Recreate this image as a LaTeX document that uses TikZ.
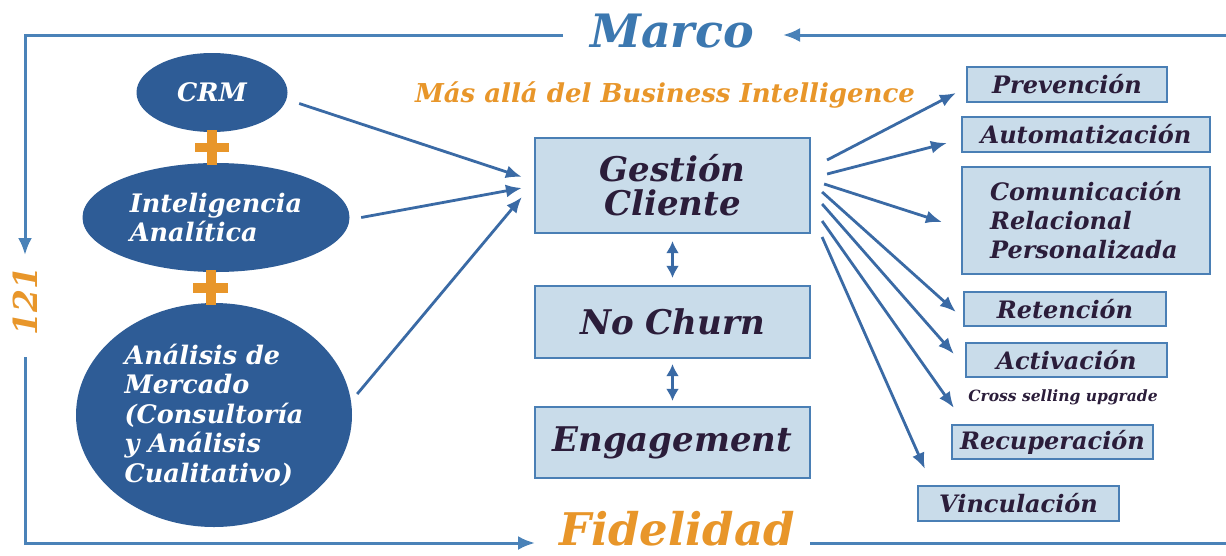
\documentclass[tikz,border=0pt]{standalone}
\usepackage{fontspec}
\setmainfont{DejaVu Serif}
\usetikzlibrary{arrows.meta,shapes.geometric,calc}
\definecolor{framec}{HTML}{4A82B8}
\definecolor{marcoc}{HTML}{3C78B0}
\definecolor{arrc}{HTML}{3A6AA5}
\definecolor{ellc}{HTML}{2E5C96}
\definecolor{orangec}{HTML}{E8962A}
\definecolor{boxc}{HTML}{C9DCEA}
\definecolor{boxb}{HTML}{4A7FB5}
\definecolor{txtc}{HTML}{2B1D3A}
\newcommand{\myfs}[2]{\fontsize{#1}{#2}\selectfont\bfseries\itshape}
\tikzset{
  frameline/.style={draw=framec, line width=3pt},
  frametip/.style={-{Latex[length=17pt,width=14pt]}},
  conn/.style={draw=arrc, line width=2.8pt, -{Latex[length=16pt,width=13pt]}},
  dbl/.style={draw=arrc, line width=2.4pt, {Latex[length=12pt,width=13pt]}-{Latex[length=12pt,width=13pt]}},
  ell/.style={ellipse, fill=ellc, text=white, inner sep=0pt, font=\myfs{25.5}{29.5}},
  bx/.style={rectangle, fill=boxc, draw=boxb, line width=2.2pt, text=txtc, inner sep=0pt},
  smallbx/.style={bx, font=\myfs{24}{29}},
  bigbx/.style={bx, minimum width=275pt, font=\myfs{34}{36}},
  plusbar/.style={fill=orangec},
}
\begin{document}
\begin{tikzpicture}[x=1pt,y=-1pt]
\fill[white] (0,0) rectangle (1226,555);
\useasboundingbox (0,0) rectangle (1226,555);

% headings
\node[anchor=base, text=marcoc, font=\myfs{46}{50}, inner sep=0pt] (marco) at (672,47) {Marco};
\node[anchor=base, text=orangec, font=\myfs{45}{50}, inner sep=0pt] (fid) at (677,545) {Fidelidad};
\node[anchor=base, text=orangec, font=\myfs{26}{30}, inner sep=0pt] (mas) at (665,102) {Más allá del Business Intelligence};
\node[rotate=90, text=orangec, font=\myfs{33}{36}, inner sep=0pt] (n121) at (25,301) {121};

% frame
\coordinate (tl) at (25,35);
\coordinate (tr) at (1226,35);
\coordinate (bl) at (25,543);
\coordinate (br) at (1226,543);
\coordinate (topL) at (563,35);
\coordinate (topR) at (783,35);
\coordinate (leftTip) at (25,255);
\coordinate (leftLow) at (25,357);
\coordinate (botL) at (535,543);
\coordinate (botR) at (810,543);
\draw[frameline, frametip] (topL) -- (tl) -- (leftTip);
\draw[frameline, frametip] (tr) -- (topR);
\draw[frameline, frametip] (leftLow) -- (bl) -- (botL);
\draw[frameline] (botR) -- (br);

% left ellipses
\node[ell, minimum width=151pt, minimum height=79pt] (crm) at (212,92.5) {CRM};
\node[ell, minimum width=267pt, minimum height=109pt, align=left] (intel) at (216,217.5) {Inteligencia\\Analítica};
\node[ell, minimum width=276pt, minimum height=224pt, align=left] (ana) at (214,415) {Análisis de\\Mercado\\(Consultoría\\y Análisis\\Cualitativo)};

% plus signs
\fill[plusbar] (207,130) rectangle (217,165);
\fill[plusbar] (195,143) rectangle (229,152);
\fill[plusbar] (206,270) rectangle (216,305);
\fill[plusbar] (193,283) rectangle (228,293);

% middle boxes
\node[bigbx, minimum height=95pt, align=center] (gc) at (672.5,185.5) {Gestión\\[-2pt]Cliente};
\node[bigbx, minimum height=72pt] (nc) at (672.5,322) {No Churn};
\node[bigbx, minimum height=71pt] (eng) at (672.5,442.5) {Engagement};
\draw[dbl, shorten <=7pt, shorten >=7pt] (gc.south) -- (nc.north);
\draw[dbl, shorten <=5pt, shorten >=5pt] (nc.south) -- (eng.north);

% right boxes
\node[smallbx, minimum width=200pt, minimum height=35pt] (prev) at (1067,84.5) {Prevención};
\node[smallbx, minimum width=248pt, minimum height=35pt] (auto) at (1086,134.5) {Automatización};
\node[smallbx, minimum width=248pt, minimum height=107pt, align=left] (com) at (1086,220.5) {Comunicación\\Relacional\\Personalizada};
\node[smallbx, minimum width=202pt, minimum height=34pt] (ret) at (1065,309) {Retención};
\node[smallbx, minimum width=201pt, minimum height=34pt] (act) at (1066.5,360) {Activación};
\node[anchor=base, text=txtc, font=\myfs{15.5}{18}, inner sep=0pt] (cross) at (1063,401) {Cross selling upgrade};
\node[smallbx, minimum width=201pt, minimum height=34pt] (rec) at (1052.5,442) {Recuperación};
\node[smallbx, minimum width=201pt, minimum height=35pt] (vin) at (1018.5,503.5) {Vinculación};

% left connectors
\draw[conn] ($(crm.east)+(11.5,11)$) -- ($(gc.west)+(-12,-8.5)$);
\draw[conn] ($(intel.east)+(11.5,0)$) -- ($(gc.west)+(-12,2.5)$);
\draw[conn] ($(ana.east)+(5,-21)$) -- ($(gc.west)+(-12,11.5)$);

% right connectors
\draw[conn] ($(gc.east)+(16,-25.5)$) -- ($(prev.west)+(-10,8.5)$);
\draw[conn] ($(gc.east)+(16,-11.5)$) -- ($(auto.west)+(-14,8.5)$);
\draw[conn] ($(gc.east)+(13,-1.5)$) -- ($(com.west)+(-19,1.5)$);
\draw[conn] ($(gc.east)+(11,6.5)$) -- ($(ret.west)+(-7,3)$);
\draw[conn] ($(gc.east)+(11,18.5)$) -- ($(act.west)+(-11,-6)$);
\draw[conn] ($(gc.east)+(11,35.5)$) -- ($(rec.north west)+(3,-16)$);
\draw[conn] ($(gc.east)+(11,51.5)$) -- ($(vin.north west)+(8,-16)$);
\end{tikzpicture}
\end{document}
